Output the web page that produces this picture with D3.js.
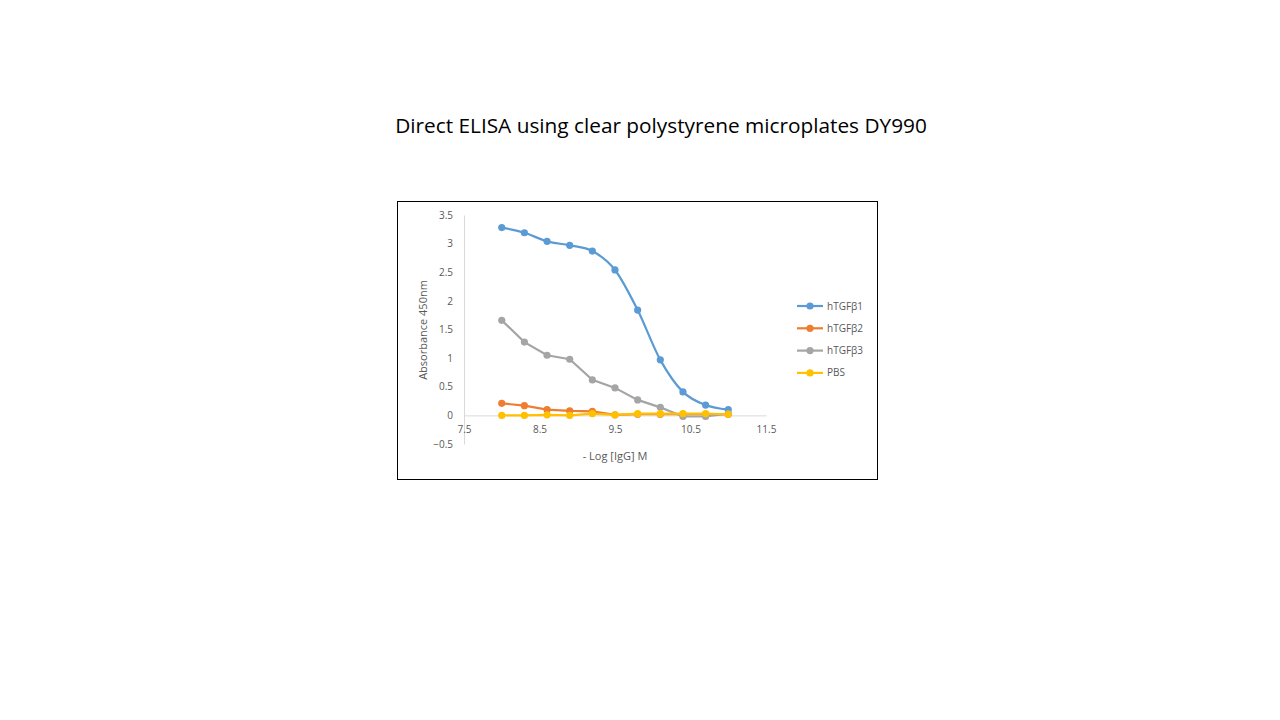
<!DOCTYPE html>
<style>
body { margin: 0; background: #fff; }
.axis .domain { stroke: #d9d9d9; }
.axis text { fill: #595959; font-family: "Open Sans", sans-serif; font-size: 10px; }
</style>
<svg width="1280" height="720"></svg>
<script src="https://d3js.org/d3.v7.min.js"></script>
<script>

var xValues = [8.0, 8.3, 8.6, 8.9, 9.2, 9.5, 9.8, 10.1, 10.4, 10.7, 11.0];
var seriesNames = ["hTGFβ1", "hTGFβ2", "hTGFβ3", "PBS"];
var tgfb1 = [3.28, 3.19, 3.04, 2.97, 2.87, 2.54, 1.84, 0.97, 0.41, 0.18, 0.10];
var tgfb2 = [0.21, 0.17, 0.10, 0.08, 0.07, 0.01, 0.02, 0.02, 0.02, 0.02, 0.02];
var tgfb3 = [1.66, 1.28, 1.05, 0.98, 0.62, 0.48, 0.27, 0.14, -0.02, -0.02, 0.03];
var pbs = [0.00, 0.00, 0.01, 0.00, 0.03, 0.01, 0.03, 0.03, 0.03, 0.03, 0.02];
var xTicks = [7.5, 8.5, 9.5, 10.5, 11.5];
var yTicks = [-0.5, 0, 0.5, 1, 1.5, 2, 2.5, 3, 3.5];

var colors = ["#5b9bd5", "#ed7d31", "#a5a5a5", "#ffc000"];
var allSeries = [tgfb1, tgfb2, tgfb3, pbs];
var smooth = [true, false, false, false];

var svg = d3.select("svg");

svg.append("text")
    .attr("x", 661)
    .attr("y", 133)
    .attr("text-anchor", "middle")
    .attr("font-family", "'Open Sans', sans-serif")
    .attr("font-size", 20.8)
    .attr("fill", "#000")
    .text("Direct ELISA using clear polystyrene microplates DY990");

// chart frame
svg.append("rect")
    .attr("x", 397.5).attr("y", 201.5)
    .attr("width", 480).attr("height", 278)
    .attr("fill", "#fff")
    .attr("stroke", "#000")
    .attr("stroke-width", 1);

var x = d3.scaleLinear().domain([7.5, 11.5]).range([464, 766]);
var y = d3.scaleLinear().domain([-0.5, 3.5]).range([444, 215]);

// y axis line at x = 7.5, x axis line at y = 0
svg.append("g")
    .attr("class", "axis")
    .attr("transform", "translate(" + x(7.5) + ",0)")
    .call(d3.axisLeft(y).tickValues(yTicks).tickSize(0).tickPadding(11).tickFormat(d3.format("")));

svg.append("g")
    .attr("class", "axis")
    .attr("transform", "translate(0," + y(0) + ")")
    .call(d3.axisBottom(x).tickValues(xTicks).tickSize(0).tickPadding(11).tickFormat(d3.format("")));

svg.selectAll(".axis .domain").attr("stroke", "#d9d9d9");

svg.append("text")
    .attr("x", 615)
    .attr("y", 460)
    .attr("text-anchor", "middle")
    .attr("font-family", "'Open Sans', sans-serif")
    .attr("font-size", 11)
    .attr("fill", "#595959")
    .text("- Log [IgG] M");

svg.append("text")
    .attr("transform", "translate(427,330) rotate(-90)")
    .attr("text-anchor", "middle")
    .attr("font-family", "'Open Sans', sans-serif")
    .attr("font-size", 11)
    .attr("fill", "#595959")
    .text("Absorbance 450nm");

allSeries.forEach(function(vals, i) {
  var pts = vals.map(function(v, j) { return [xValues[j], v]; });
  var line = d3.line()
      .x(function(d) { return x(d[0]); })
      .y(function(d) { return y(d[1]); })
      .curve(smooth[i] ? d3.curveCatmullRom.alpha(0) : d3.curveLinear);

  var g = svg.append("g");
  g.append("path")
      .attr("d", line(pts))
      .attr("fill", "none")
      .attr("stroke", colors[i])
      .attr("stroke-width", 2.2);
  g.selectAll("circle")
      .data(pts)
      .enter().append("circle")
        .attr("cx", function(d) { return x(d[0]); })
        .attr("cy", function(d) { return y(d[1]); })
        .attr("r", 3.6)
        .attr("fill", colors[i]);
});

var legend = svg.append("g")
    .selectAll("g")
    .data(seriesNames)
    .enter().append("g")
      .attr("transform", function(d, i) { return "translate(797," + (306 + i * 22.3) + ")"; });

legend.append("line")
    .attr("x1", 0).attr("x2", 26)
    .attr("stroke", function(d, i) { return colors[i]; })
    .attr("stroke-width", 2.2);

legend.append("circle")
    .attr("cx", 13)
    .attr("r", 3.6)
    .attr("fill", function(d, i) { return colors[i]; });

legend.append("text")
    .attr("x", 30)
    .attr("dy", "0.35em")
    .attr("font-family", "'Open Sans', sans-serif")
    .attr("font-size", 10)
    .attr("fill", "#595959")
    .text(function(d) { return d; });

</script>
